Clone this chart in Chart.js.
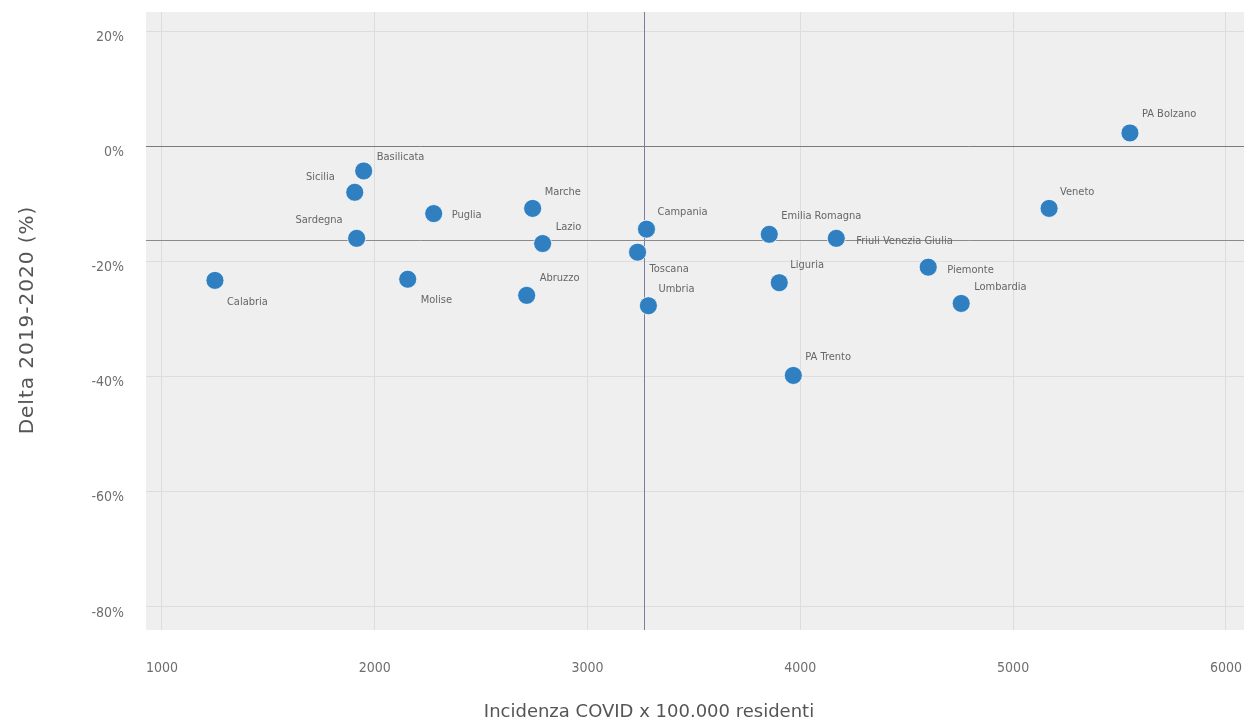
<!DOCTYPE html>
<html>
<head>
<meta charset="utf-8">
<script src="https://cdn.jsdelivr.net/npm/chart.js@4"></script>
<style>
    html, body { margin: 0; padding: 0; background: #fff; }
    #wrap { width: 1250px; height: 727px; }
</style>
</head>
<body>
<div id="wrap"><canvas id="grafico"></canvas></div>
<script>
// ==================== DATI ====================

const regioni = ['PA Bolzano', 'Basilicata', 'Sicilia', 'Sardegna', 'Calabria', 'Molise', 'Puglia',
    'Marche', 'Lazio', 'Abruzzo', 'Campania', 'Toscana', 'Umbria', 'Emilia Romagna',
    'Friuli Venezia Giulia', 'Liguria', 'PA Trento', 'Piemonte', 'Lombardia', 'Veneto'];
const incidenza = [5549, 1948, 1906, 1915, 1249, 2155, 2277,
    2742, 2789, 2714, 3277, 3235, 3286, 3854,
    4169, 3901, 3967, 4601, 4756, 5169];
const delta = [2.3, -4.3, -8.0, -16.0, -23.3, -23.1, -11.7,
    -10.8, -16.9, -25.9, -14.4, -18.4, -27.7, -15.3,
    -16.0, -23.7, -39.8, -21.0, -27.3, -10.8];

const xTicks = [1000, 2000, 3000, 4000, 5000, 6000];
const yTicks = [20, 0, -20, -40, -60, -80];

// medie (linee di riferimento)
const mediaIncidenza = 3265;
const mediaDelta = -16.2;

// posizione etichette: [dx, dy, allineamento]
const posEtichette = {
    'PA Bolzano': [12, -19, 'left'], 'Basilicata': [13, -14, 'left'], 'Sicilia': [-20, -15, 'right'],
    'Sardegna': [-14, -18, 'right'], 'Calabria': [12, 22, 'left'], 'Molise': [13, 21, 'left'],
    'Puglia': [18, 2, 'left'], 'Marche': [12, -16, 'left'], 'Lazio': [13, -16, 'left'],
    'Abruzzo': [13, -17, 'left'], 'Campania': [11, -17, 'left'], 'Toscana': [12, 17, 'left'],
    'Umbria': [10, -17, 'left'], 'Emilia Romagna': [12, -18, 'left'], 'Friuli Venezia Giulia': [20, 3, 'left'],
    'Liguria': [11, -18, 'left'], 'PA Trento': [12, -18, 'left'], 'Piemonte': [19, 3, 'left'],
    'Lombardia': [13, -16, 'left'], 'Veneto': [11, -16, 'left']
};

const FONT = "'DejaVu Sans Condensed', 'Liberation Sans Narrow', sans-serif";

// toglie il padding automatico delle etichette, così l'area resta fissa
function azzeraPadding(s) {
    s.paddingTop = 0; s.paddingBottom = 0;
    s.paddingLeft = 0; s.paddingRight = 0;
}

// ==================== PLUGIN ====================

const sfondoArea = {
    id: 'sfondoArea',
    beforeDraw(chart) {
        const { ctx, chartArea: a } = chart;
        ctx.save();
        ctx.fillStyle = '#efefef';
        ctx.fillRect(a.left, a.top, a.right - a.left, a.bottom - a.top);
        ctx.restore();
    }
};

const lineeMedie = {
    id: 'lineeMedie',
    beforeDatasetsDraw(chart) {
        const { ctx, chartArea: a, scales: { x, y } } = chart;
        ctx.save();
        ctx.lineWidth = 1;
        // verticale
        const px = Math.round(x.getPixelForValue(mediaIncidenza)) + 0.5;
        ctx.strokeStyle = '#7c7c9c';
        ctx.beginPath(); ctx.moveTo(px, a.top); ctx.lineTo(px, a.bottom); ctx.stroke();
        // orizzontale
        const py = Math.round(y.getPixelForValue(mediaDelta)) + 0.5;
        ctx.strokeStyle = '#8a8a8a';
        ctx.beginPath(); ctx.moveTo(a.left, py); ctx.lineTo(a.right, py); ctx.stroke();
        ctx.restore();
    }
};

const etichette = {
    id: 'etichette',
    afterDatasetsDraw(chart) {
        const { ctx } = chart;
        const meta = chart.getDatasetMeta(0);
        ctx.save();
        ctx.font = "11px 'DejaVu Sans Condensed', 'DejaVu Sans', sans-serif";
        ctx.fillStyle = '#666';
        ctx.textBaseline = 'middle';
        meta.data.forEach((pt, i) => {
            const [dx, dy, al] = posEtichette[regioni[i]];
            ctx.textAlign = al;
            ctx.fillText(regioni[i], pt.x + dx, pt.y + dy);
        });
        ctx.restore();
    }
};

const titoliAssi = {
    id: 'titoliAssi',
    afterDraw(chart) {
        const { ctx } = chart;
        ctx.save();
        ctx.fillStyle = '#555';
        ctx.font = "18px 'DejaVu Sans', sans-serif";
        ctx.textAlign = 'center';
        ctx.textBaseline = 'middle';
        ctx.fillText('Incidenza COVID x 100.000 residenti', 649, 712);
        ctx.translate(28, 320);
        ctx.rotate(-Math.PI / 2);
        ctx.font = "20px 'DejaVu Sans', sans-serif";
        ctx.letterSpacing = '1px';
        ctx.fillText('Delta 2019-2020 (%)', 0, 0);
        ctx.restore();
    }
};

// ==================== GRAFICO ====================

new Chart(document.getElementById('grafico'), {
    type: 'scatter',
    data: {
        datasets: [{
            data: incidenza.map((v, i) => ({ x: v, y: delta[i] })),
            backgroundColor: '#2f7fc1',
            borderColor: 'rgba(255,255,255,0.7)',
            borderWidth: 1,
            pointRadius: 9,
            pointHoverRadius: 9,
        }]
    },
    options: {
        responsive: true,
        maintainAspectRatio: false,
        animation: false,
        layout: { autoPadding: false, padding: { left: 0, top: 12, right: 6, bottom: 0 } },
        plugins: { legend: { display: false }, tooltip: { enabled: false } },
        scales: {
            x: {
                type: 'linear',
                min: 925,
                max: 6085,
                afterBuildTicks: s => { s.ticks = xTicks.map(v => ({ value: v })); },
                afterFit: s => { s.height = 97; azzeraPadding(s); },
                border: { display: false },
                grid: { color: '#dddddd', drawTicks: false },
                ticks: {
                    padding: 30,
                    color: '#6e6e6e',
                    font: { family: FONT, size: 14 },
                    callback: v => String(v)
                }
            },
            y: {
                type: 'linear',
                min: -84,
                max: 23.3,
                afterBuildTicks: s => { s.ticks = yTicks.map(v => ({ value: v })); },
                afterFit: s => { s.width = 146; azzeraPadding(s); },
                border: { display: false },
                grid: {
                    color: c => (c.tick && c.tick.value === 0) ? '#7a7a7a' : '#dddddd',
                    drawTicks: false
                },
                ticks: {
                    padding: 22,
                    labelOffset: 6,
                    color: '#6e6e6e',
                    font: { family: FONT, size: 14 },
                    callback: v => v + '%'
                }
            }
        }
    },
    plugins: [sfondoArea, lineeMedie, etichette, titoliAssi]
});
</script>
</body>
</html>
